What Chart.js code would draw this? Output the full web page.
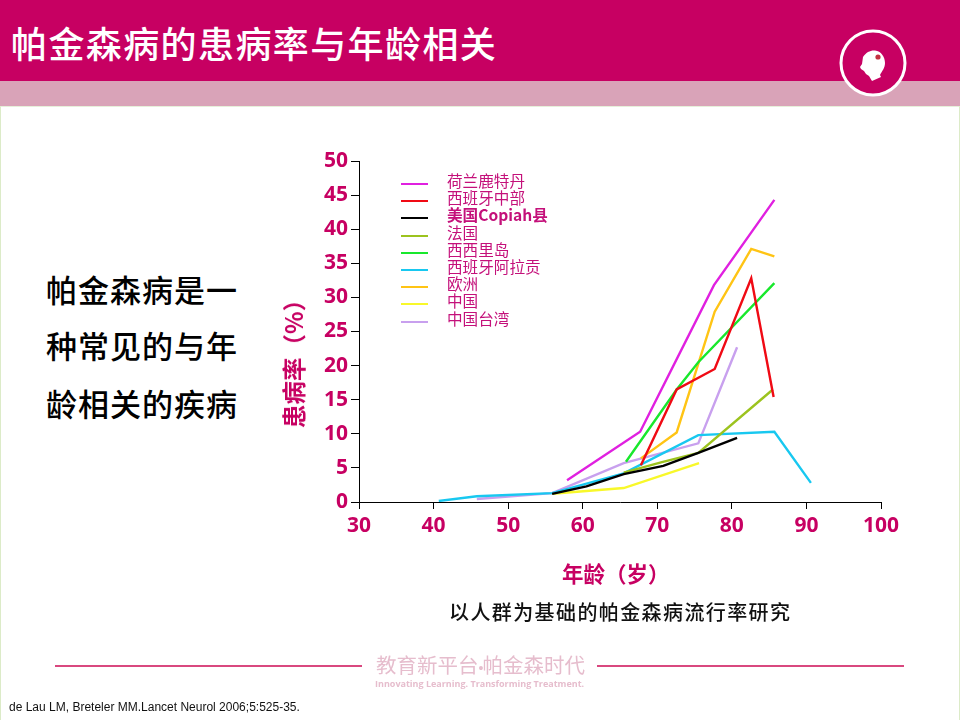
<!DOCTYPE html>
<html lang="zh-CN"><head><meta charset="utf-8">
<script src="https://cdn.jsdelivr.net/npm/chart.js@4"></script>
<style>
html,body{margin:0;padding:0;background:#fff}
#page{position:relative;width:960px;height:720px;overflow:hidden;background:#fff;font-family:"Noto Sans CJK SC",sans-serif}
#page div{position:absolute;white-space:nowrap}
canvas{position:absolute;left:0;top:0}
#head{left:0;top:0;width:960px;height:81px;background:#c70062}
#band{left:0;top:81px;width:960px;height:25px;background:#d9a3b8}
#frame{left:0;top:106px;width:958px;height:614px;border-left:1px solid #dcebc8;border-right:1px solid #dcebc8;border-top:1px solid #e6f0da}
#title{left:11px;top:17px;font-size:36px;line-height:50px;letter-spacing:1.4px;color:#fff;font-weight:500}
.body{left:46px;font-size:31px;line-height:40px;letter-spacing:1px;color:#000;font-weight:500}
#sub{left:449px;top:598px;font-size:20px;line-height:28px;letter-spacing:1.4px;font-weight:500;color:#111}
#ytitle{left:293px;top:358px;font-size:23.5px;line-height:28px;font-weight:700;color:#c70062;transform:translate(-50%,-50%) rotate(-90deg)}
#xtitle{left:562px;top:559px;font-size:21.5px;line-height:28px;font-weight:700;color:#c70062}
.rule{height:2px;background:#d9487f;top:665px}
#logo1{left:376px;top:649px;font-size:20.5px;line-height:30px;color:#e6bdcd}
#logo1 span{font-family:"Liberation Sans",sans-serif;font-size:14px;margin:0 -1px 0 0}
#logo2{left:375px;top:677px;font-size:9px;line-height:13px;font-family:"Open Sans",sans-serif;font-weight:700;color:#e6bdcd}
#ref{left:9px;top:700px;font-family:"Liberation Sans",Arial,sans-serif;font-size:12px;line-height:14px;color:#111}
svg{position:absolute;left:836px;top:26px}
.lg{height:2px;left:401px;width:27px}
.lt{left:447px;font-size:15.6px;line-height:18px;color:#c4107a}
</style></head><body>
<div id="page">
<div id="frame"></div><div id="head"></div><div id="band"></div>
<div id="title">帕金森病的患病率与年龄相关</div>
<svg width="74" height="74" viewBox="0 0 74 74"><circle cx="37" cy="37" r="32" fill="#c70062" stroke="#fff" stroke-width="3"/>
<path d="M27 31 C30 26 35 24 39 24.5 C45 25 49 31 49 37 C49 42 46 45 44 49 L45 51 L36 55 L33 50 L30 48 L28 45 L25 43 L24 41 L26 38 Z" fill="#fff"/><circle cx="42" cy="31" r="2.6" fill="#c43040"/></svg>
<div class="body" style="top:269px">帕金森病是一</div>
<div class="body" style="top:325px">种常见的与年</div>
<div class="body" style="top:383px">龄相关的疾病</div>
<canvas id="c" width="960" height="720"></canvas>
<div id="ytitle"></div>
<div id="xtitle"></div>
<div id="sub">以人群为基础的帕金森病流行率研究</div>
<div class="rule" style="left:55px;width:307px"></div>
<div class="rule" style="left:597px;width:307px"></div>
<div id="logo1">教育新平台<span>•</span>帕金森时代</div>
<div id="logo2">Innovating Learning. Transforming Treatment.</div>
<div id="ref">de Lau LM, Breteler MM.Lancet Neurol 2006;5:525-35.</div>
</div>
<script>
const seriesNames = ["荷兰鹿特丹","西班牙中部","美国Copiah县","法国","西西里岛","西班牙阿拉贡","欧洲","中国","中国台湾"];
const seriesColors = ["#e020e0","#f00a14","#000000","#9cc31e","#18e82c","#18c8f0","#ffc414","#f8f82a","#c8a0ee"];
const rotterdamX = [57.9,67.7,77.6,85.7];
const rotterdamY = [3.2,10.3,31.8,44.3];
const centralSpainX = [67.8,72.6,77.7,82.6,85.6];
const centralSpainY = [5.4,16.5,19.5,32.8,15.4];
const copiahX = [55.9,60.5,65.5,70.8,75.5,80.7];
const copiahY = [1.2,2.3,4.1,5.3,7.2,9.4];
const franceX = [65.5,70.5,75.5,85.5];
const franceY = [4.3,5.8,7.2,16.5];
const sicilyX = [65.8,72.6,75.5,85.7];
const sicilyY = [5.9,16.5,20.5,32.1];
const aragonX = [40.7,45.8,55.9,65.5,75.5,85.7,90.6];
const aragonY = [0.15,0.85,1.3,4.2,9.8,10.3,2.8];
const europeX = [67.8,72.6,77.7,82.6,85.7];
const europeY = [6.4,10.2,27.9,37.1,36.0];
const chinaX = [55.9,65.5,75.6];
const chinaY = [1.2,2.05,5.7];
const taiwanX = [45.8,55.9,65.5,75.5,80.7];
const taiwanY = [0.45,1.3,5.7,8.6,22.7];
const seriesX = [rotterdamX,centralSpainX,copiahX,franceX,sicilyX,aragonX,europeX,chinaX,taiwanX];
const seriesY = [rotterdamY,centralSpainY,copiahY,franceY,sicilyY,aragonY,europeY,chinaY,taiwanY];
const xTicks = [30,40,50,60,70,80,90,100];
const yTicks = [0,5,10,15,20,25,30,35,40,45,50];
const xTitle = "年龄（岁）";
const yTitle = "患病率（%）";
const accent = "#c70062";

document.getElementById("ytitle").textContent = yTitle;
document.getElementById("xtitle").textContent = xTitle;
const page = document.getElementById("page");
seriesNames.forEach((n,i)=>{
  const y = 184 + i*17.2;
  const bar = document.createElement("div");
  bar.className="lg"; bar.style.top=(y-1)+"px"; bar.style.background=seriesColors[i];
  page.appendChild(bar);
  const t = document.createElement("div");
  t.className="lt"; t.style.top=(y-13)+"px"; t.textContent=n;
  if(i===2) t.style.fontWeight="700";
  page.appendChild(t);
});

const tickFont = {family:"'Open Sans',sans-serif",size:21,weight:"700"};
new Chart(document.getElementById("c"),{
  type:"scatter",
  data:{datasets:seriesNames.map((n,i)=>({
    label:n,
    data:seriesX[i].map((x,j)=>({x,y:seriesY[i][j]})),
    showLine:true,tension:0,borderColor:seriesColors[i],backgroundColor:seriesColors[i],
    borderWidth:2.4,pointRadius:0,pointHoverRadius:0
  }))},
  options:{
    responsive:false,animation:false,
    layout:{padding:{left:259,right:79,top:161,bottom:118}},
    plugins:{legend:{display:false},tooltip:{enabled:false}},
    scales:{
      x:{type:"linear",min:30,max:100,
        afterFit(s){s.height=100},
        afterBuildTicks(s){s.ticks=xTicks.map(v=>({value:v}))},
        border:{color:"#000",width:1},
        grid:{drawOnChartArea:false,color:"#000",tickLength:7,tickWidth:1},
        ticks:{color:accent,font:tickFont,padding:4,maxRotation:0,autoSkip:false}
      },
      y:{type:"linear",min:0,max:50,
        afterFit(s){s.width=100},
        afterBuildTicks(s){s.ticks=yTicks.map(v=>({value:v}))},
        border:{color:"#000",width:1},
        grid:{drawOnChartArea:false,color:"#000",tickLength:8,tickWidth:1},
        ticks:{color:accent,font:tickFont,padding:3,autoSkip:false}
      }
    }
  }
});
</script>
</body></html>
